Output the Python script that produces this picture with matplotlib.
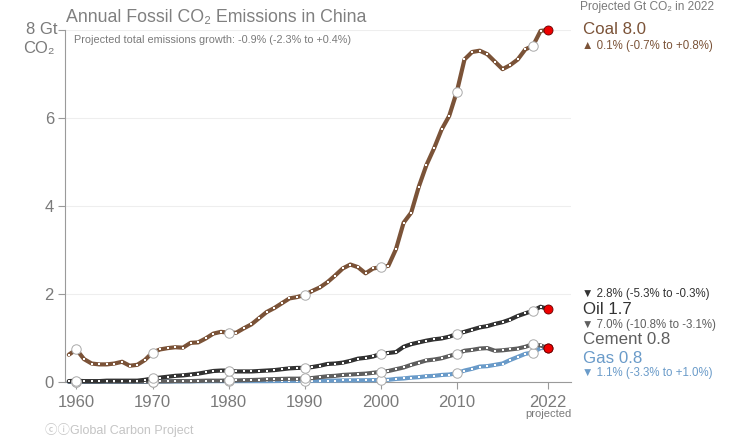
import matplotlib
matplotlib.use("Agg")
import matplotlib.pyplot as plt

plt.rcParams['font.family'] = ['Liberation Sans', 'DejaVu Sans']

# --------------------------
# Data (Gt CO2)
# --------------------------
years = list(range(1959, 2023))

coal = [0.62, 0.74, 0.52, 0.42, 0.40, 0.40, 0.42, 0.46, 0.37, 0.39,
        0.50, 0.67, 0.74, 0.77, 0.79, 0.78, 0.89, 0.90, 0.99, 1.10,
        1.14, 1.12, 1.12, 1.22, 1.31, 1.45, 1.59, 1.68, 1.79, 1.90,
        1.93, 1.98, 2.07, 2.15, 2.27, 2.42, 2.58, 2.67, 2.61, 2.47,
        2.58, 2.61, 2.64, 3.02, 3.62, 3.85, 4.44, 4.93, 5.31, 5.74,
        6.05, 6.60, 7.33, 7.50, 7.53, 7.45, 7.28, 7.11, 7.20, 7.33,
        7.56, 7.64, 7.98, 8.00]

oil = [0.02, 0.03, 0.02, 0.02, 0.02, 0.03, 0.03, 0.03, 0.03, 0.03,
       0.05, 0.08, 0.10, 0.12, 0.14, 0.15, 0.17, 0.19, 0.22, 0.25,
       0.26, 0.26, 0.24, 0.24, 0.24, 0.25, 0.26, 0.27, 0.29, 0.31,
       0.32, 0.32, 0.34, 0.37, 0.41, 0.42, 0.44, 0.48, 0.53, 0.55,
       0.58, 0.64, 0.66, 0.68, 0.80, 0.86, 0.90, 0.94, 0.97, 0.99,
       1.03, 1.09, 1.14, 1.19, 1.24, 1.27, 1.32, 1.36, 1.42, 1.50,
       1.56, 1.62, 1.71, 1.66]

cement = [0.01, 0.01, 0.01, 0.01, 0.01, 0.01, 0.01, 0.01, 0.01, 0.01,
          0.01, 0.01, 0.015, 0.015, 0.02, 0.02, 0.02, 0.025, 0.03, 0.03,
          0.03, 0.035, 0.035, 0.04, 0.045, 0.05, 0.06, 0.065, 0.07, 0.075,
          0.075, 0.08, 0.09, 0.11, 0.13, 0.14, 0.16, 0.17, 0.18, 0.19,
          0.21, 0.23, 0.25, 0.29, 0.33, 0.39, 0.44, 0.49, 0.51, 0.54,
          0.59, 0.64, 0.71, 0.73, 0.76, 0.77, 0.71, 0.72, 0.74, 0.76,
          0.80, 0.86, 0.83, 0.77]

gas = [0.002, 0.003, 0.003, 0.003, 0.003, 0.004, 0.004, 0.004, 0.005, 0.005,
       0.006, 0.008, 0.01, 0.012, 0.013, 0.014, 0.015, 0.017, 0.018, 0.019,
       0.02, 0.02, 0.02, 0.02, 0.02, 0.02, 0.02, 0.022, 0.024, 0.026,
       0.028, 0.03, 0.03, 0.031, 0.032, 0.033, 0.035, 0.037, 0.038, 0.04,
       0.042, 0.045, 0.05, 0.07, 0.08, 0.10, 0.11, 0.13, 0.14, 0.16,
       0.17, 0.20, 0.26, 0.30, 0.35, 0.36, 0.39, 0.42, 0.50, 0.57,
       0.64, 0.67, 0.77, 0.78]

circle_years = [1960, 1970, 1980, 1990, 2000, 2010, 2020]
xtick_years = [1960, 1970, 1980, 1990, 2000, 2010, 2022]
xtick_labels = ["1960", "1970", "1980", "1990", "2000", "2010", "2022"]
ytick_vals = [0, 2, 4, 6, 8]
ytick_labels = ["0", "2", "4", "6", ""]

c_coal = "#7b5338"
c_oil = "#333333"
c_cement = "#5f5f5f"
c_gas = "#6a9bc9"
c_text = "#7a7a7a"
c_axis = "#9a9a9a"

W, H = 743, 448


def px(x, y):
    return x / W, 1 - y / H


# --------------------------
# Figure
# --------------------------
fig = plt.figure(figsize=(W / 100, H / 100), dpi=100)
ax = fig.add_axes([65 / W, 66 / H, (571 - 65) / W, (382 - 30) / H])

for series, col in [(gas, c_gas), (cement, c_cement), (oil, c_oil), (coal, c_coal)]:
    ax.plot(years, series, color=col, lw=3.0, solid_capstyle='round',
            marker='s', ms=1.8, mfc='white', mew=0, zorder=3, clip_on=False)
    cy = [series[years.index(y)] for y in circle_years]
    ax.plot(circle_years, cy, 'o', ms=6.8, mfc='white', mec='#aaaaaa', mew=0.7,
            zorder=4, clip_on=False)
    ax.plot([years[-1]], [series[-1]], 'o', ms=6.5, mfc='#ee0000', mec='#660000',
            mew=0.6, zorder=5, clip_on=False)

ax.set_xlim(1958.5, 2025)
ax.set_ylim(0, 8)
ax.set_xticks(xtick_years)
ax.set_xticklabels(xtick_labels)
ax.set_yticks(ytick_vals)
ax.set_yticklabels(ytick_labels)
ax.tick_params(axis='both', colors=c_axis, labelcolor=c_text, labelsize=12,
               length=5, width=0.8)
ax.tick_params(axis='x', pad=4)
ax.tick_params(axis='y', pad=3)

ax.grid(axis='y', color='#eeeeee', lw=0.8)
ax.set_axisbelow(True)
for s in ['top', 'right']:
    ax.spines[s].set_visible(False)
for s in ['left', 'bottom']:
    ax.spines[s].set_color(c_axis)
    ax.spines[s].set_linewidth(0.8)

# --------------------------
# Texts
# --------------------------
fig.text(*px(66, 17), "Annual Fossil CO₂ Emissions in China", fontsize=12.8,
         color='#808080', va='center', ha='left')
fig.text(*px(74, 40), "Projected total emissions growth: -0.9% (-2.3% to +0.4%)",
         fontsize=7.8, color=c_text, va='center', ha='left')
fig.text(*px(58, 30), "8 Gt", fontsize=12, color=c_text, va='center', ha='right')
fig.text(*px(55, 48), "CO₂", fontsize=12, color=c_text, va='center', ha='right')
fig.text(*px(548, 414), "projected", fontsize=8, color=c_text, va='center', ha='center')
fig.text(*px(45, 430), "ⓒⓘGlobal Carbon Project", fontsize=9, color='#c4c4c4',
         va='center', ha='left',
         family=['Liberation Sans', 'Noto Sans CJK SC', 'DejaVu Sans'])

lx = 580
fs_small = 8.3
fig.text(*px(lx, 7), "Projected Gt CO₂ in 2022", fontsize=8.6, color=c_text, va='center')
fig.text(*px(lx + 3, 29), "Coal 8.0", fontsize=12.2, color=c_coal, va='center')
fig.text(*px(lx + 2, 46), "▲ 0.1% (-0.7% to +0.8%)", fontsize=fs_small, color=c_coal, va='center')
fig.text(*px(lx + 2, 294), "▼ 2.8% (-5.3% to -0.3%)", fontsize=fs_small, color=c_oil, va='center')
fig.text(*px(lx + 3, 309), "Oil 1.7", fontsize=12.2, color=c_oil, va='center')
fig.text(*px(lx + 2, 325), "▼ 7.0% (-10.8% to -3.1%)", fontsize=fs_small, color=c_cement, va='center')
fig.text(*px(lx + 3, 340), "Cement 0.8", fontsize=12.2, color=c_cement, va='center')
fig.text(*px(lx + 3, 358), "Gas 0.8", fontsize=12.2, color=c_gas, va='center')
fig.text(*px(lx + 2, 373), "▼ 1.1% (-3.3% to +1.0%)", fontsize=fs_small, color=c_gas, va='center')

fig.savefig("out.png", dpi=100)
